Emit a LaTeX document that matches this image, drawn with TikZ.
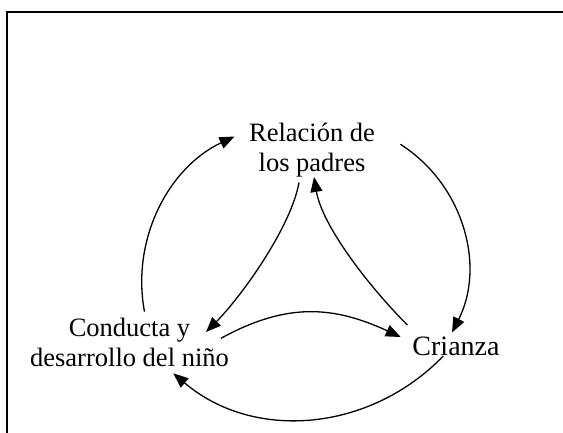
\documentclass[tikz,border=0pt]{standalone}
\usepackage{fontspec}
\setmainfont{Liberation Serif}
\usepackage{tikz}
\usetikzlibrary{arrows.meta}

\begin{document}
\begin{tikzpicture}[x=1pt,y=-1pt,
    lbl/.style={align=center,inner sep=0pt,font=\fontsize{26.5}{30}\selectfont},
    cyc/.style={line width=1.3pt,-{Triangle[length=15pt,width=12pt]}}]
    \useasboundingbox (0,0) rectangle (563,433);
    \draw [line width=1.3pt] (563,12) -- (7,12) -- (7,433);
    \node [lbl] (rel) at (312,150.3) {Relación de\\los padres};
    \node [lbl] (con) at (129.5,342) {Conducta y\\desarrollo del niño};
    \node [lbl,font=\fontsize{28}{32}\selectfont,anchor=base] (cri) at (456,355) {Crianza};
    % outer cycle
    \draw [cyc] ([shift={(15,-30.3)}]con.center) .. controls +(-13.5,-72) and +(-66.3,31.2) .. ([shift={(-77.5,-13.8)}]rel.center);
    \draw [cyc] ([shift={(88.4,-6)}]rel.center) .. controls +(63,40.1) and +(33.8,-66.6) .. ([shift={(-4,-22.5)}]cri.base);
    \draw [cyc] ([shift={(-12.7,1)}]cri.base) .. controls +(-73.4,75.9) and +(80.5,68.4) .. ([shift={(43.8,31.3)}]con.center);
    % inner cycle
    \draw [cyc] ([shift={(-13,32.2)}]rel.center) .. controls +(-8,45) and +(35,-35) .. ([shift={(76.5,-10)}]con.center);
    \draw [cyc] ([shift={(91.5,-3.7)}]con.center) .. controls +(65.6,-36) and +(-67.5,-31.2) .. ([shift={(-55.3,-18)}]cri.base);
    \draw [cyc] ([shift={(-48.6,-30)}]cri.base) .. controls +(-40,-40) and +(8,48) .. ([shift={(2,26.7)}]rel.center);
\end{tikzpicture}
\end{document}
